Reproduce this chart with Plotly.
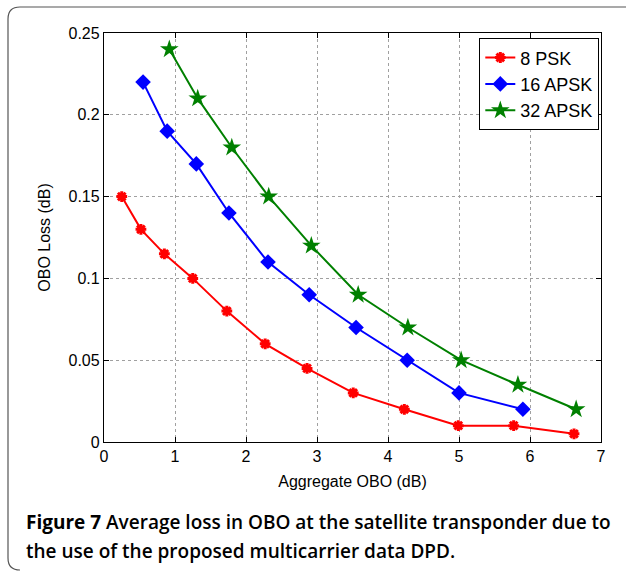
import plotly.graph_objects as go

# ---- data ----
psk8_x = [0.25, 0.52, 0.85, 1.25, 1.73, 2.27, 2.86, 3.51, 4.23, 4.99, 5.77, 6.62]
psk8_y = [0.15, 0.13, 0.115, 0.10, 0.08, 0.06, 0.045, 0.03, 0.02, 0.01, 0.01, 0.005]
apsk16_x = [0.55, 0.89, 1.30, 1.76, 2.31, 2.89, 3.55, 4.27, 5.00, 5.90]
apsk16_y = [0.22, 0.19, 0.17, 0.14, 0.11, 0.09, 0.07, 0.05, 0.03, 0.02]
apsk32_x = [0.92, 1.32, 1.80, 2.32, 2.92, 3.58, 4.28, 5.03, 5.83, 6.65]
apsk32_y = [0.24, 0.21, 0.18, 0.15, 0.12, 0.09, 0.07, 0.05, 0.035, 0.02]

x_ticks = [0, 1, 2, 3, 4, 5, 6, 7]
y_ticks = [0, 0.05, 0.1, 0.15, 0.2, 0.25]
y_tick_labels = ["0", "0.05", "0.1", "0.15", "0.2", "0.25"]

W, H = 626, 571
L, R, T, B = 104, 25, 33, 129
PW, PH = W - L - R, H - T - B

def px(x):
    return (x - L) / PW

def py(y):
    return (H - B - y) / PH

FONT = "Liberation Sans, Arial"

fig = go.Figure()
fig.add_trace(go.Scatter(
    x=psk8_x, y=psk8_y, mode="lines+markers", name="8 PSK",
    line=dict(color="#ff0000", width=2),
    marker=dict(symbol="asterisk-open", size=9, color="#ff0000",
                line=dict(color="#ff0000", width=3))))
fig.add_trace(go.Scatter(
    x=apsk16_x, y=apsk16_y, mode="lines+markers", name="16 APSK",
    line=dict(color="#0000ff", width=2),
    marker=dict(symbol="diamond", size=12, color="#0000ff")))
fig.add_trace(go.Scatter(
    x=apsk32_x, y=apsk32_y, mode="lines+markers", name="32 APSK",
    line=dict(color="#008000", width=2),
    marker=dict(symbol="star", size=14, color="#008000")))

axis_common = dict(
    showline=True, linecolor="black", linewidth=1.3, mirror="ticks",
    ticks="inside", ticklen=5, tickcolor="black",
    showgrid=True, gridcolor="#a0a0a0", griddash="dot", gridwidth=1,
    zeroline=False,
    tickfont=dict(family=FONT, size=16, color="black"),
)

fig.update_layout(
    width=W, height=H,
    margin=dict(l=L, r=R, t=T, b=B),
    paper_bgcolor="white", plot_bgcolor="white",
    showlegend=True,
    legend=dict(x=px(479), y=py(38), xanchor="left", yanchor="top",
                bgcolor="white", bordercolor="black", borderwidth=1.3,
                font=dict(family=FONT, size=18, color="black"),
                tracegroupgap=0, itemwidth=30),
    xaxis=dict(range=[0, 7], tickvals=x_ticks,
               title=dict(text="Aggregate OBO (dB)", standoff=11,
                          font=dict(family=FONT, size=16, color="black")),
               **axis_common),
    yaxis=dict(range=[0, 0.25], tickvals=y_ticks, ticktext=y_tick_labels,
               title=dict(text="OBO Loss (dB)", standoff=13,
                          font=dict(family=FONT, size=16, color="black")),
               **axis_common),
)

# frame around the figure (rounded corners on the left)
path = (f"M {px(626)},{py(7)} L {px(20)},{py(7)} "
        f"Q {px(8)},{py(7)} {px(8)},{py(19)} "
        f"L {px(8)},{py(558)} Q {px(8)},{py(570)} {px(20)},{py(570)}")
fig.add_shape(type="path", path=path, xref="paper", yref="paper",
              line=dict(color="#555555", width=1.2))

caption_line1 = "<b>Figure 7</b> Average loss in OBO at the satellite transponder due to"
caption_line2 = "the use of the proposed multicarrier data DPD."
for text, yc in [(caption_line1, 522), (caption_line2, 551)]:
    fig.add_annotation(x=px(24), y=py(yc), xref="paper", yref="paper",
                       xanchor="left", yanchor="middle", align="left", showarrow=False,
                       text=text,
                       font=dict(family="Open Sans", size=19, color="black", weight=600))

fig.write_html("out.html", config={"displayModeBar": False},
               post_script="document.body.style.margin='0';")
